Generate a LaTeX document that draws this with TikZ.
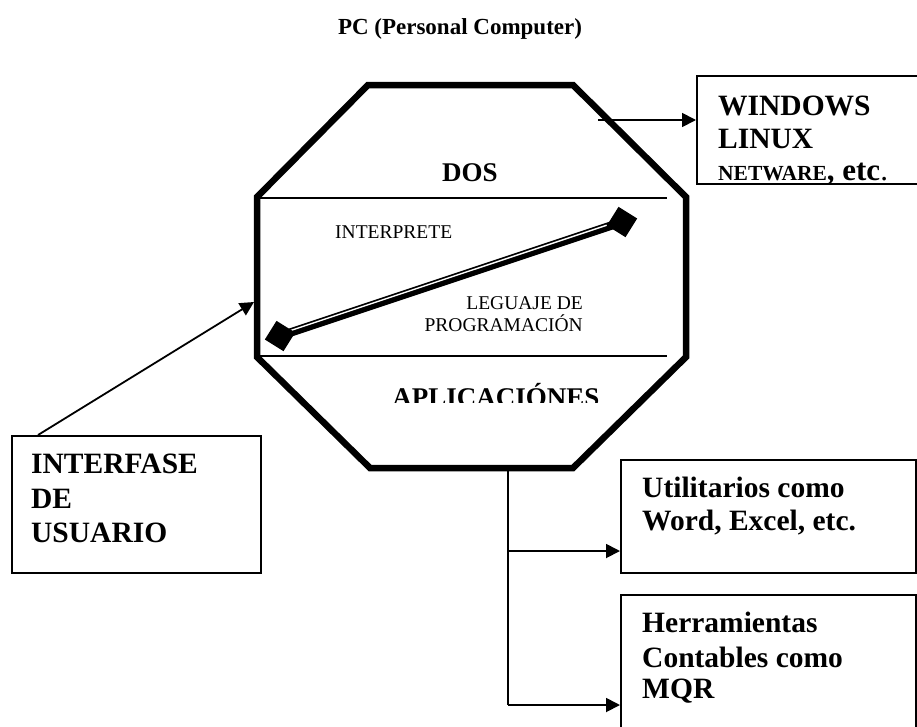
\documentclass[tikz,border=0pt]{standalone}
\usepackage{fontspec}
\setmainfont{Liberation Serif}
\usetikzlibrary{arrows.meta}

\begin{document}
\begin{tikzpicture}[x=1pt,y=-1pt,
  big/.style={inner sep=0pt, anchor=base west, font=\bfseries\fontsize{29.5}{32}\selectfont},
  small/.style={inner sep=0pt, font=\fontsize{19.5}{22}\selectfont},
  box/.style={draw, line width=1.7pt, inner sep=0pt, anchor=north west},
  conn/.style={line width=1.8pt, -{Triangle[length=14pt,width=14pt]}},
  octo/.style={line width=6.5pt, line join=miter},
  divider/.style={line width=1.7pt},
  sq/.style={fill=black, inner sep=0pt, minimum size=22pt, rotate=58}
]
\useasboundingbox (0,0) rectangle (917,726);

% title
\node[inner sep=0pt, anchor=base, font=\bfseries\fontsize{23}{26}\selectfont] (title) at (460,34) {PC (Personal Computer)};

% octagon with its two dividing lines
\draw[octo] (368,85) -- (573,85) -- (686,197) -- (686,357) -- (573,468)
  -- (370,468) -- (257,357) -- (257,197) -- cycle;
\draw[divider] (257,198) -- (667,198);
\draw[divider] (257,356) -- (667,356);

% bar between the two squares
\coordinate (barA) at (280,336);
\coordinate (barB) at (622,222);
\draw[line width=8.5pt] (barA) -- (barB);
\draw[white, line width=1.4pt] (290.7,330.5) -- (606.7,225.2);
\node[sq] (sqA) at (barA) {};
\node[sq] (sqB) at (barB) {};

% texts inside the octagon
\node[inner sep=0pt, anchor=base, font=\bfseries\fontsize{27}{30}\selectfont] (dos) at (470,181) {DOS};
\node[small, anchor=base west] (interp) at (335,238) {INTERPRETE};
\node[small, anchor=base east] (leng1) at (583,309) {LEGUAJE DE};
\node[small, anchor=base east] (leng2) at (583,331) {PROGRAMACIÓN};
\begin{scope}
  \clip (300,370) rectangle (700,402);
  \node[inner sep=0pt, anchor=base, font=\bfseries\fontsize{27}{30}\selectfont] (apl) at (496,406) {APLICACIÓNES};
\end{scope}

% attachment points on the octagon
\coordinate (octW) at (598,120);
\coordinate (octL) at (254,302);
\coordinate (octB) at (508,468);

% boxes
\node[box, minimum width=224pt, minimum height=108pt] (win) at (696,75) {};
\node[box, minimum width=249pt, minimum height=137pt] (ifz) at (11,435) {};
\node[box, minimum width=295pt, minimum height=113pt] (util) at (620,459) {};
\node[box, minimum width=295pt, minimum height=140pt] (herr) at (620,594) {};

% box texts
\node[big] (w1) at (718,115) {WINDOWS};
\node[big] (w2) at (718,148) {LINUX};
\node[big] (w3) at (718,180) {{\fontsize{21.5}{24}\selectfont NETWARE}{\fontsize{31}{34}\selectfont, etc\mdseries.}};

\node[big] (i1) at (31,473) {INTERFASE};
\node[big] (i2) at (31,508) {DE};
\node[big] (i3) at (31,542) {USUARIO};

\node[big] (u1) at (642,497) {Utilitarios como};
\node[big] (u2) at (642,530) {Word, Excel, etc.};

\node[big] (h1) at (642,632) {Herramientas};
\node[big] (h2) at (642,667) {Contables como};
\node[big] (h3) at (642,698) {MQR};

% connectors
\draw[conn] (octW) -- (win.west |- octW);
\draw[conn] ([xshift=27pt]ifz.north west) -- (octL);
\coordinate (uarr) at ([yshift=-92pt]util.north west);
\coordinate (harr) at ([yshift=-111pt]herr.north west);
\draw[line width=1.8pt] (octB) -- (octB |- harr);
\draw[conn] (octB |- uarr) -- (uarr);
\draw[conn] (octB |- harr) -- (harr);
\end{tikzpicture}
\end{document}
